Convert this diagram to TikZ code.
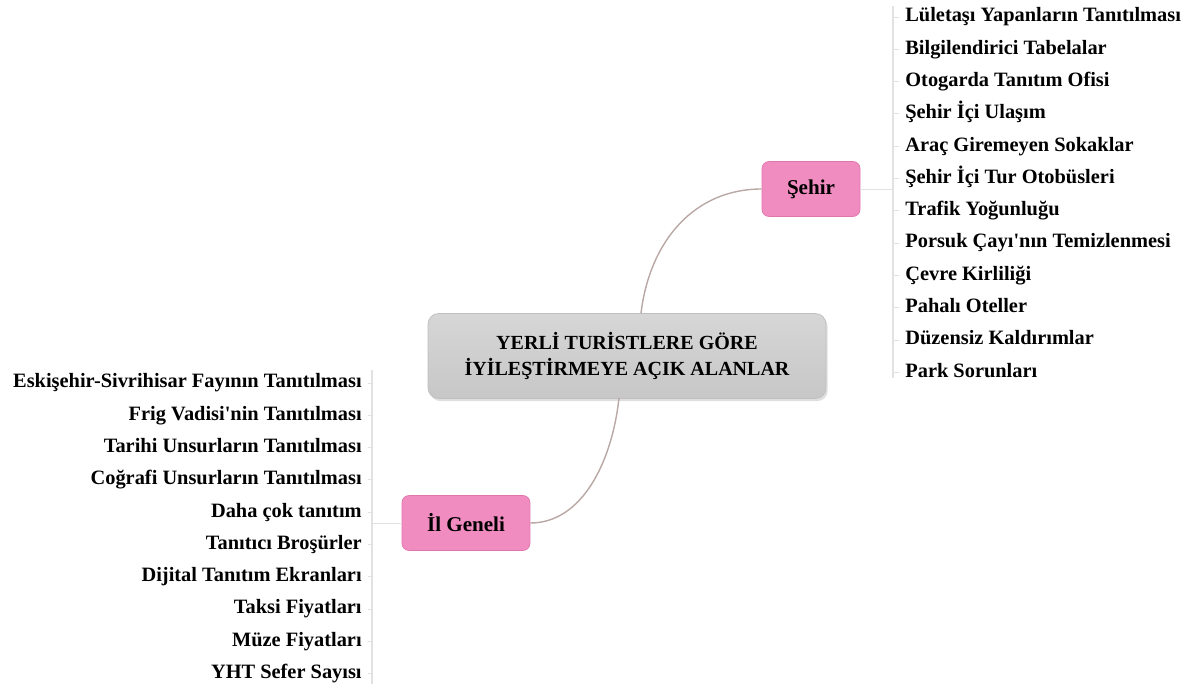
\documentclass[tikz,border=0pt]{standalone}
\usepackage{fontspec}
\setmainfont{Liberation Serif}
\usetikzlibrary{positioning, shadows}

\definecolor{pinkfill}{RGB}{241,140,192}
\definecolor{pinkedge}{RGB}{226,118,172}
\definecolor{linkcol}{RGB}{185,168,164}
\definecolor{railcol}{RGB}{226,226,226}

\begin{document}
\begin{tikzpicture}[
    x=0.02cm, y=-0.02cm,
    hub/.style={rectangle, rounded corners=6pt, draw=gray!50, top color=gray!32, bottom color=gray!44, minimum width=7.96cm, minimum height=1.7cm, align=center, font=\bfseries\fontsize{11.4}{15}\selectfont, drop shadow={opacity=0.25, shadow xshift=1pt, shadow yshift=-1.5pt}},
    topic/.style={rectangle, rounded corners=4pt, draw=pinkedge, fill=pinkfill, minimum height=1.1cm, align=center, font=\bfseries\fontsize{12}{14}\selectfont},
    ritem/.style={rectangle, inner xsep=0.12cm, inner ysep=0pt, minimum height=0.632cm, text height=1.6ex, text depth=0.4ex, anchor=west, font=\bfseries\fontsize{11.6}{13}\selectfont},
    litem/.style={ritem, anchor=east},
    link/.style={draw=linkcol, line width=0.8pt},
    rail/.style={draw=railcol, line width=0.6pt},
    tick/.style={draw=railcol, line width=0.5pt}
]
\useasboundingbox (0,0) rectangle (1189,695);

% Centre and the two topics
\node[hub] (hub) at (627,356) {YERLİ TURİSTLERE GÖRE\\İYİLEŞTİRMEYE AÇIK ALANLAR};
\node[topic, minimum width=1.96cm] (sehir) at (811,189) {Şehir};
\node[topic, minimum width=2.56cm] (il) at (466,523) {İl Geneli};

\coordinate (hubtop) at (641,313);
\coordinate (hubbot) at (619,398);
\draw[link] (hubtop) .. controls (650,240) and (695,189) .. (sehir.west);
\draw[link] (hubbot) .. controls (612,462) and (582,523) .. (il.east);

% Şehir items
\node[ritem] (r1) at (899,17) {Lületaşı Yapanların Tanıtılması};
\node[ritem, below=0pt of r1.south west, anchor=north west] (r2) {Bilgilendirici Tabelalar};
\node[ritem, below=0pt of r2.south west, anchor=north west] (r3) {Otogarda Tanıtım Ofisi};
\node[ritem, below=0pt of r3.south west, anchor=north west] (r4) {Şehir İçi Ulaşım};
\node[ritem, below=0pt of r4.south west, anchor=north west] (r5) {Araç Giremeyen Sokaklar};
\node[ritem, below=0pt of r5.south west, anchor=north west] (r6) {Şehir İçi Tur Otobüsleri};
\node[ritem, below=0pt of r6.south west, anchor=north west] (r7) {Trafik Yoğunluğu};
\node[ritem, below=0pt of r7.south west, anchor=north west] (r8) {Porsuk Çayı\textquotesingle nın Temizlenmesi};
\node[ritem, below=0pt of r8.south west, anchor=north west] (r9) {Çevre Kirliliği};
\node[ritem, below=0pt of r9.south west, anchor=north west] (r10) {Pahalı Oteller};
\node[ritem, below=0pt of r10.south west, anchor=north west] (r11) {Düzensiz Kaldırımlar};
\node[ritem, below=0pt of r11.south west, anchor=north west] (r12) {Park Sorunları};

\coordinate (rtop) at (893,6);
\coordinate (rbot) at (893,378);
\draw[rail] (rtop) -- (rbot);
\draw[tick] (sehir.east) -- (sehir.east -| rtop);
\foreach \n in {r1,r2,r3,r4,r5,r6,r7,r8,r9,r10,r11,r12}
    \draw[tick] (\n.west) -- (\n.west -| rtop);

% İl Geneli items
\node[litem] (l1) at (368,383) {Eskişehir-Sivrihisar Fayının Tanıtılması};
\node[litem, below=0pt of l1.south east, anchor=north east] (l2) {Frig Vadisi\textquotesingle nin Tanıtılması};
\node[litem, below=0pt of l2.south east, anchor=north east] (l3) {Tarihi Unsurların Tanıtılması};
\node[litem, below=0pt of l3.south east, anchor=north east] (l4) {Coğrafi Unsurların Tanıtılması};
\node[litem, below=0pt of l4.south east, anchor=north east] (l5) {Daha çok tanıtım};
\node[litem, below=0pt of l5.south east, anchor=north east] (l6) {Tanıtıcı Broşürler};
\node[litem, below=0pt of l6.south east, anchor=north east] (l7) {Dijital Tanıtım Ekranları};
\node[litem, below=0pt of l7.south east, anchor=north east] (l8) {Taksi Fiyatları};
\node[litem, below=0pt of l8.south east, anchor=north east] (l9) {Müze Fiyatları};
\node[litem, below=0pt of l9.south east, anchor=north east] (l10) {YHT Sefer Sayısı};

\coordinate (ltop) at (372,370);
\coordinate (lbot) at (372,684);
\draw[rail] (ltop) -- (lbot);
\draw[tick] (il.west) -- (il.west -| ltop);
\foreach \n in {l1,l2,l3,l4,l5,l6,l7,l8,l9,l10}
    \draw[tick] (\n.east) -- (\n.east -| ltop);

\end{tikzpicture}
\end{document}
